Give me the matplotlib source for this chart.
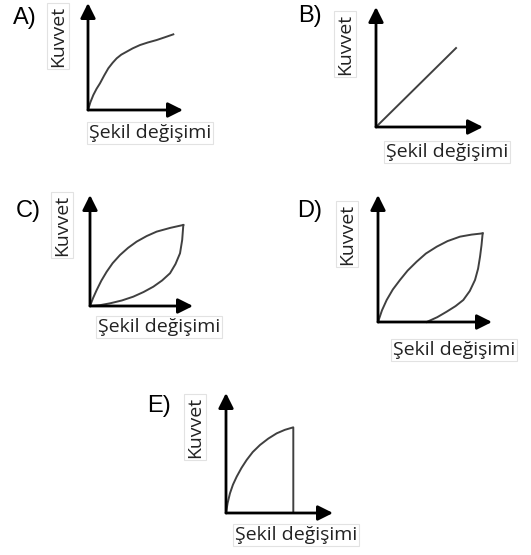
import matplotlib.pyplot as plt
import numpy as np

# Fig size in pixels
W, H = 531, 555

# curve values, in units of the axis length (10 = arrow tip)
a_x = [0, 0.25, 0.56, 0.9, 1.26, 1.7, 2.14, 2.6, 3.02, 3.5, 4.07, 4.7, 5.47, 6.3, 7.23, 8.1, 8.98]
a_y = [0, 0.72, 1.40, 1.98, 2.49, 3.22, 3.90, 4.42, 4.83, 5.17, 5.45, 5.76, 6.07, 6.31, 6.54, 6.80, 7.07]

b_x = [0, 7.48]
b_y = [0, 6.58]

c_up_x = [0, 0.3, 0.65, 1.1, 1.62, 2.2, 2.91, 3.7, 4.53, 5.5, 6.47, 7.8, 9.06]
c_up_y = [0, 0.72, 1.44, 2.28, 3.09, 3.86, 4.59, 5.24, 5.80, 6.30, 6.70, 7.04, 7.30]
c_lo_x = [0, 1.0, 1.94, 3.1, 4.20, 5.2, 6.15, 7.0, 7.77, 8.3, 8.74, 8.95, 9.06]
c_lo_y = [0, 0.08, 0.24, 0.50, 0.84, 1.26, 1.74, 2.30, 2.95, 3.78, 4.75, 5.95, 7.30]

d_up_x = [0, 0.35, 0.76, 1.3, 1.93, 2.6, 3.39, 4.2, 5.15, 6.1, 7.19, 8.2, 9.18]
d_up_y = [0, 0.92, 1.73, 2.56, 3.31, 4.05, 4.75, 5.39, 5.93, 6.37, 6.72, 6.88, 6.98]
d_lo_x = [4.27, 5.2, 6.02, 6.8, 7.48, 8.05, 8.51, 8.78, 8.95, 9.08, 9.18]
d_lo_y = [0, 0.38, 0.81, 1.25, 1.73, 2.44, 3.31, 4.20, 5.14, 6.05, 6.98]

e_x = [0, 0.15, 0.37, 0.65, 1.0, 1.45, 1.93, 2.5, 3.18, 3.95, 4.74, 5.5, 6.29, 6.29]
e_y = [0, 0.82, 1.64, 2.36, 3.03, 3.76, 4.42, 5.08, 5.67, 6.20, 6.64, 6.93, 7.14, 0]

letters = ['A)', 'B)', 'C)', 'D)', 'E)']
ylabel = 'Kuvvet'
xlabel = 'Şekil değişimi'

# panel geometry in pixels: origin x, origin y, x arrow tip, y arrow tip
panels = [
    (88, 110, 183, 3),
    (376, 127, 483, 7),
    (90, 306, 193, 195),
    (378, 322, 492, 195),
    (226, 513, 333, 393),
]
# label centres in pixels: letter, Kuvvet, Şekil
label_pos = [
    ((25, 18), (58, 36), (150, 133)),
    ((310, 16), (345, 44), (447, 152)),
    ((28, 211), (62, 225), (159, 327)),
    ((310, 211), (347, 234), (454, 350)),
    ((159, 406), (195, 427), (296, 535)),
]
curves = [
    [(a_x, a_y)],
    [(b_x, b_y)],
    [(c_up_x, c_up_y), (c_lo_x, c_lo_y)],
    [(d_up_x, d_up_y), (d_lo_x, d_lo_y)],
    [(e_x, e_y)],
]

fig = plt.figure(figsize=(W / 100, H / 100), dpi=100)


def fx(px):
    return px / W


def fy(py):
    return 1 - py / H


box = dict(boxstyle='square,pad=0.12', fc='white', ec='#e2e2e2', lw=0.8)

for i in range(5):
    x0, y0, xt, yt = panels[i]
    ax = fig.add_axes([fx(x0), fy(y0), (xt - x0) / W, (y0 - yt) / H])
    ax.set_xlim(0, 10)
    ax.set_ylim(0, 10)
    ax.axis('off')
    for cx, cy in curves[i]:
        ax.plot(cx, cy, color='#404040', lw=1.4, clip_on=False,
                solid_joinstyle='round')
    arr = dict(arrowstyle='-|>,head_length=0.9,head_width=0.45', lw=2,
               color='black', shrinkA=0, shrinkB=0, mutation_scale=10)
    ax.annotate('', xy=(1, 0), xytext=(0, 0), xycoords='axes fraction',
                arrowprops=arr, annotation_clip=False)
    ax.annotate('', xy=(0, 1), xytext=(0, 0), xycoords='axes fraction',
                arrowprops=arr, annotation_clip=False)

    (lx, ly), (kx, ky), (sx, sy) = label_pos[i]
    fig.text(fx(lx), fy(ly), letters[i], fontsize=17,
             family='Liberation Sans', ha='center', va='center')
    fig.text(fx(kx), fy(ky), ylabel, fontsize=14, family='Open Sans',
             rotation=90, ha='center', va='center', color='#222222', bbox=box)
    fig.text(fx(sx), fy(sy), xlabel, fontsize=14, family='Open Sans',
             ha='center', va='center', color='#222222', bbox=box)

plt.savefig('out.png', dpi=100)
plt.close()
